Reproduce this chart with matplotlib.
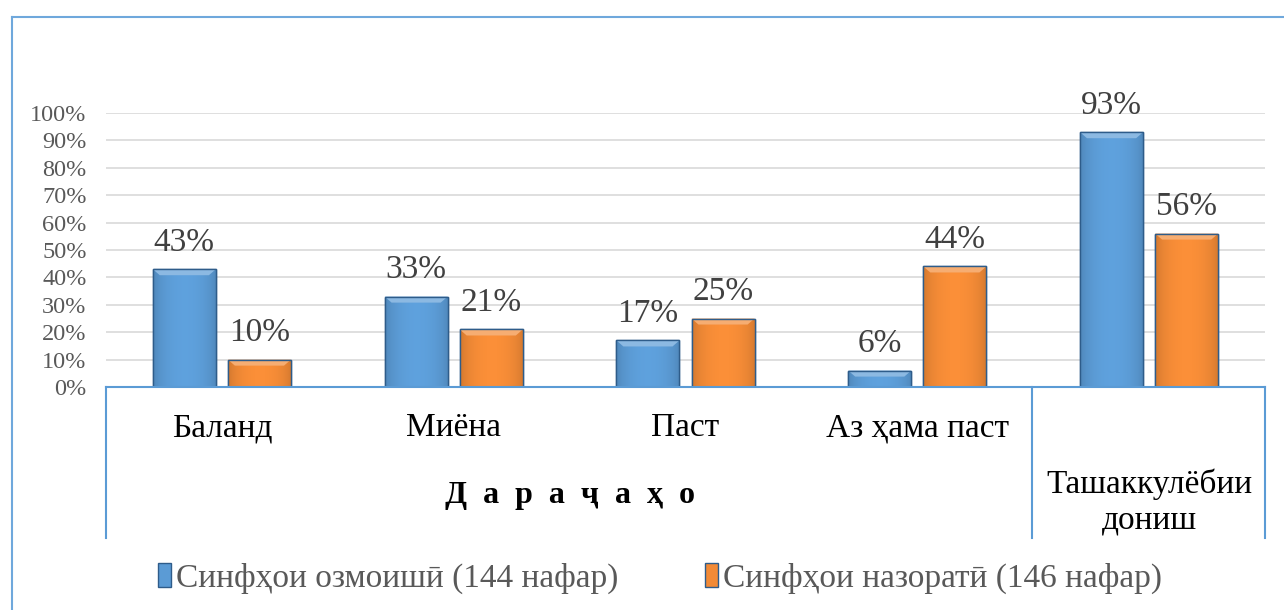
import matplotlib
matplotlib.use("Agg")
import matplotlib.pyplot as plt
import numpy as np
from matplotlib.patches import Patch
from matplotlib.lines import Line2D

plt.rcParams['font.family'] = ['Liberation Serif', 'DejaVu Serif']

categories = ["Баланд", "Миёна", "Паст", "Аз ҳама паст", "Ташаккулёбии\nдониш"]
group_label = "Д  а  р  а  ҷ  а  ҳ  о"
series_names = ["Синфҳои озмоишӣ (144 нафар)", "Синфҳои назоратӣ (146 нафар)"]
experimental = [0.43, 0.33, 0.17, 0.06, 0.93]
control = [0.10, 0.21, 0.25, 0.44, 0.56]
yticks = [0, 0.1, 0.2, 0.3, 0.4, 0.5, 0.6, 0.7, 0.8, 0.9, 1.0]

W, H = 1284, 610
fig = plt.figure(figsize=(W/100, H/100), dpi=100)

def fx(px): return px / W
def fy(py): return 1 - py / H

x0, x1 = 106, 1265
ybot, ytop = 387, 113
ax = fig.add_axes([fx(x0), fy(ybot), fx(x1) - fx(x0), fy(ytop) - fy(ybot)])
ax.set_xlim(-0.5, len(categories) - 0.5)
ax.set_ylim(0, 1)

blue = "#5B9BD5"
orange = "#F28A36"
blue_edge = "#2E5C8A"
orange_edge = "#2E5C8A"

bw = 0.272
off = 0.162
xs = np.arange(len(categories))

def grad_bar(x, h, base, edge):
    bar = ax.bar(x, h, width=bw, color=base, edgecolor=edge, linewidth=1.0, zorder=3)[0]
    rgb = np.array(matplotlib.colors.to_rgb(base))
    n = 64
    t = np.linspace(0, 1, n)
    shade = 0.84 + 0.2 * np.sin(np.pi * t) ** 0.5
    img = np.clip(rgb[None, None, :] * shade[None, :, None], 0, 1)
    im = ax.imshow(img, extent=[x - bw/2, x + bw/2, 0, h], aspect='auto', zorder=3.5)
    im.set_clip_path(bar)
    lt = np.clip(rgb + (1 - rgb) * 0.3, 0, 1)
    ax.fill([x - bw/2, x + bw/2, x + bw/2 - 0.03, x - bw/2 + 0.03],
            [h, h, h - 0.022, h - 0.022], color=lt, zorder=3.6, lw=0)
    ax.bar(x, h, width=bw, fill=False, edgecolor=edge, linewidth=1.0, zorder=3.8)

for i in range(len(categories)):
    grad_bar(xs[i] - off, experimental[i], blue, blue_edge)
    grad_bar(xs[i] + off, control[i], orange, orange_edge)
    ax.text(xs[i] - off, experimental[i] + 0.097, f"{round(experimental[i]*100)}%",
            ha='center', va='center', fontsize=24, color="#404040", zorder=5)
    ax.text(xs[i] + off, control[i] + 0.097, f"{round(control[i]*100)}%",
            ha='center', va='center', fontsize=24, color="#404040", zorder=5)

ax.set_yticks(yticks)
ax.set_yticklabels([f"{int(round(v*100))}%" for v in yticks], fontsize=17.5, color="#595959")
ax.tick_params(axis='y', length=0, pad=14)
ax.set_xticks([])
ax.yaxis.grid(True, color="#D9D9D9", linewidth=1.2, zorder=0)
ax.set_axisbelow(True)
for s in ax.spines.values():
    s.set_visible(False)
ax.set_xlim(-0.5, len(categories) - 0.5)

lc = "#5B9BD5"
fig.add_artist(Line2D([fx(x0), fx(x1)], [fy(ybot), fy(ybot)], color=lc, lw=1.5))
for px in [x0, 1032, x1]:
    fig.add_artist(Line2D([fx(px), fx(px)], [fy(ybot), fy(538)], color=lc, lw=1.5))

for i in range(4):
    ax.text(xs[i], -0.15, categories[i], ha='center', va='center', fontsize=24,
            color='black', clip_on=False)
ax.text(xs[4], -0.42, categories[4], ha='center', va='center', fontsize=24,
        color='black', linespacing=1.2, clip_on=False)
ax.text(1.5, -0.395, group_label, ha='center', va='center', fontsize=23,
        fontweight='bold', color='black', clip_on=False)

fig.add_artist(Line2D([fx(12), fx(12)], [fy(17), 0], color="#6FA8DC", lw=1.5))
fig.add_artist(Line2D([fx(12), 1], [fy(17), fy(17)], color="#6FA8DC", lw=1.5))

handles = [Patch(facecolor=blue, edgecolor=blue_edge), Patch(facecolor=orange, edgecolor=orange_edge)]
fig.legend(handles, series_names, loc='center', bbox_to_anchor=(fx(660), fy(578)),
           ncol=2, frameon=False, fontsize=24, handlelength=0.4, handleheight=0.75,
           handletextpad=0.15, columnspacing=2.6, labelcolor="#595959")

fig.savefig("out.png", dpi=100)
